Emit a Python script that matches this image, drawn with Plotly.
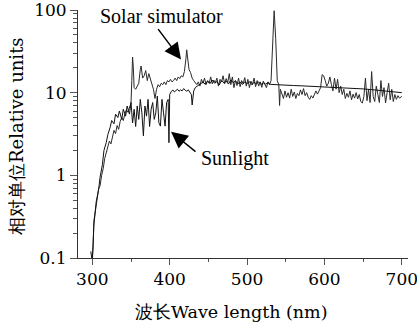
import plotly.graph_objects as go

# Sunlight spectrum (wavelength nm, relative units)
sun_wl = [298, 299, 300, 302, 303, 305, 308, 310, 313, 315, 318, 320, 323, 325, 328, 330, 333, 335, 338,
          340, 343, 345, 348, 350, 352, 354, 356, 358, 360, 362, 364, 366, 368, 370, 372, 374, 376, 378,
          380, 382, 384, 386, 388, 390, 392, 394, 396, 398, 399, 400, 402, 404, 406, 408, 410, 412, 414,
          416, 418, 420, 422, 424, 426, 428, 429, 431, 433, 435, 438, 440, 443, 446, 449, 452, 455, 458,
          461, 464, 467, 470, 473, 476, 479, 482, 485, 488, 491, 494, 497, 500, 503, 506, 509, 512, 515,
          518, 521, 524, 527, 530, 535, 540, 550, 560, 570, 580, 590, 600, 610, 620, 630, 640, 650, 660,
          670, 680, 690, 700]
sun_val = [0.12, 0.1, 0.09, 0.25, 0.34, 0.48, 0.66, 0.95, 1.35, 2.0, 2.5, 3.1, 3.8, 4.6, 4.2, 5.5, 5.0, 6.0, 4.75,
           6.3, 5.2, 6.9, 5.5, 7.6, 4.3, 6.3, 3.9, 6.9, 4.75, 8.3, 5.7, 3.0, 6.9, 5.2, 8.3, 3.9, 6.3, 7.6,
           4.75, 5.7, 9.1, 4.33, 3.94, 8.3, 5.7, 3.94, 7.6, 8.3, 2.48, 9.5, 10.3, 10.8, 10.2, 10.6, 11.0, 10.4, 10.8,
           10.5, 11.2, 10.7, 10.4, 10.8, 10.2, 9.5, 7.1, 10.5, 11.5, 12.0, 12.5, 12.8, 13.5, 12.6, 13.8, 12.9, 14.2, 13.0,
           13.6, 12.4, 14.0, 13.1, 13.8, 12.7, 14.3, 13.2, 13.9, 12.8, 13.5, 12.6, 13.4, 12.9, 13.6, 12.5, 13.3, 12.8, 13.5,
           12.6, 13.1, 12.7, 13.2, 12.6, 12.5, 12.4, 12.3, 12.2, 12.1, 12.0, 11.9, 11.8, 11.7, 11.55, 11.4, 11.25, 11.1, 10.9,
           10.7, 10.5, 10.25, 10.0]

# Solar simulator spectrum
sim_wl = [300, 301, 302, 304, 306, 308, 310, 312, 314, 316, 318, 320, 322, 324, 326, 328, 330, 332, 334, 336,
          338, 340, 342, 344, 346, 348, 350, 351, 352, 353, 354, 356, 358, 360, 362, 363, 365, 367, 369, 371,
          373, 375, 377, 379, 381, 383, 385, 387, 389, 391, 393, 395, 397, 399, 401, 403, 405, 407, 409, 411,
          413, 415, 417, 419, 421, 422, 423, 425, 427, 429, 431, 433, 435, 437, 439, 441, 443, 445, 447, 449,
          451, 453, 455, 457, 459, 461, 463, 465, 467, 469, 471, 473, 475, 477, 479, 481, 483, 485, 487, 489,
          491, 493, 495, 497, 499, 501, 503, 505, 507, 509, 511, 513, 515, 517, 519, 521, 523, 525, 527, 529,
          531, 533, 535, 537, 539, 541, 542, 543, 545, 547, 549, 551, 553, 555, 557, 559, 561, 563, 565, 567,
          569, 571, 573, 575, 577, 579, 581, 583, 585, 587, 589, 591, 593, 595, 597, 599, 601, 603, 605, 607,
          609, 611, 613, 615, 617, 619, 621, 623, 625, 627, 629, 631, 633, 635, 637, 639, 641, 643, 645, 647,
          649, 651, 653, 655, 657, 659, 661, 663, 665, 667, 669, 671, 673, 675, 677, 679, 681, 683, 685, 687,
          689, 691, 693, 695, 697, 700]
sim_val = [0.1, 0.14, 0.28, 0.36, 0.5, 0.68, 0.75, 1.0, 1.2, 1.6, 1.9, 2.2, 2.6, 2.4, 3.0, 3.5, 3.2, 4.0, 3.6, 4.5,
           5.0, 4.6, 5.5, 6.2, 5.8, 6.8, 7.5, 14.0, 27.0, 20.0, 11.5, 11.0, 12.0, 13.0, 19.0, 21.0, 15.0, 16.0, 18.5, 14.0,
           17.0, 15.0, 12.5, 11.0, 8.5, 11.0, 12.5, 11.8, 13.0, 12.5, 13.5, 12.5, 14.0, 13.5, 14.5, 13.5, 14.0, 15.0, 14.0, 15.5,
           14.8, 16.0, 15.5, 18.0, 26.0, 33.0, 27.0, 19.0, 17.5, 15.0, 14.0, 13.0, 12.5, 13.5, 12.0, 14.5, 13.0, 15.0, 12.5, 14.0,
           13.0, 15.5, 12.8, 14.2, 13.2, 15.0, 12.0, 14.5, 13.5, 16.0, 12.8, 14.8, 13.2, 17.0, 12.5, 15.5, 11.5, 14.0, 12.2, 15.0,
           11.8, 14.0, 12.8, 15.2, 12.0, 14.5, 11.5, 13.8, 12.5, 15.0, 11.8, 14.0, 12.0, 13.5, 11.6, 13.8, 12.4, 11.5, 13.5, 12.5,
           14.0, 40.0, 98.0, 45.0, 14.0, 12.5, 7.0, 11.0, 9.5, 8.5, 10.5, 8.8, 10.0, 8.6, 11.0, 9.0, 10.2, 8.5, 9.8, 9.2,
           10.8, 9.5, 11.2, 9.2, 10.0, 8.8, 8.3, 9.2, 8.6, 9.8, 10.5, 9.6, 10.4, 11.5, 16.5, 16.0, 14.0, 12.0, 13.0, 15.5,
           12.5, 10.5, 15.0, 11.0, 14.5, 10.0, 12.0, 9.5, 11.0, 8.5, 9.8, 8.8, 10.5, 8.2, 9.6, 8.6, 10.0, 8.4, 9.5, 7.8,
           7.5, 9.0, 15.0, 8.0, 11.0, 7.6, 18.0, 9.0, 7.8, 12.0, 9.5, 7.6, 14.0, 9.0, 11.5, 7.5, 10.0, 13.0, 8.2, 11.0,
           7.8, 9.5, 8.3, 9.2, 8.6, 9.0]

x_ticks = [300, 400, 500, 600, 700]
x_minor = [350, 450, 550, 650]
y_ticks = [0.1, 1, 10, 100]
y_tick_text = ["0.1", "1", "10", "100"]
y_minor = [0.2, 0.3, 0.4, 0.5, 0.6, 0.7, 0.8, 0.9, 2, 3, 4, 5, 6, 7, 8, 9, 20, 30, 40, 50, 60, 70, 80, 90]

serif2 = "DejaVu Serif"

fig = go.Figure()
fig.add_trace(go.Scatter(x=sim_wl, y=sim_val, mode="lines", line=dict(color="#2a2a2a", width=1),
                         name="Solar simulator", showlegend=False))
fig.add_trace(go.Scatter(x=sun_wl, y=sun_val, mode="lines", line=dict(color="#111111", width=1),
                         name="Sunlight", showlegend=False))

# arrows (log axis -> annotation y given in log10 units)
fig.add_annotation(x=414.6, y=1.4, xref="x", yref="y", text="", showarrow=True,
                   ax=-24, ay=-32, arrowhead=2, arrowsize=2.2, arrowwidth=1.5, arrowcolor="black")
fig.add_annotation(x=401.7, y=0.527, xref="x", yref="y", text="", showarrow=True,
                   ax=26, ay=21, arrowhead=2, arrowsize=2.2, arrowwidth=1.5, arrowcolor="black")
fig.add_annotation(x=0.263, y=0.976, xref="paper", yref="paper", text="Solar simulator",
                   xanchor="center", yanchor="middle",
                   showarrow=False, font=dict(family="Times New Roman", size=20, color="black"))
fig.add_annotation(x=0.484, y=0.403, xref="paper", yref="paper", text="Sunlight",
                   xanchor="center", yanchor="middle",
                   showarrow=False, font=dict(family="serif", size=20, color="black"))
# axis titles
fig.add_annotation(x=0.472, y=-0.218, xref="paper", yref="paper", text="波长Wave length (nm)",
                   xanchor="center", yanchor="middle",
                   showarrow=False, font=dict(family=serif2, size=17.5, color="black"))
fig.add_annotation(x=-0.167, y=0.492, xref="paper", yref="paper", text="相对单位Relative units",
                   xanchor="center", yanchor="middle", textangle=-90,
                   showarrow=False, font=dict(family=serif2, size=18, color="black"))

fig.update_layout(
    width=417, height=330,
    margin=dict(l=73, r=9, t=10, b=72),
    paper_bgcolor="white", plot_bgcolor="white",
    font=dict(family=serif2, size=17, color="black"),
    xaxis=dict(range=[275, 708], tickvals=x_ticks, ticks="outside", ticklen=6, tickwidth=1,
               tickcolor="#555", showline=True, linecolor="#333", linewidth=1, showgrid=False,
               zeroline=False, automargin=False, ticklabeloverflow="allow",
               minor=dict(tickvals=x_minor, ticks="outside", ticklen=3, tickcolor="#555"),
               tickfont=dict(family=serif2, size=17)),
    yaxis=dict(type="log", range=[-1, 2], tickvals=y_ticks, ticktext=y_tick_text, ticks="outside",
               ticklen=7, tickwidth=1, tickcolor="#555", showline=True, linecolor="#333", linewidth=1,
               showgrid=False, zeroline=False, anchor="free", position=4/335, automargin=False,
               ticklabeloverflow="allow",
               minor=dict(tickvals=y_minor, ticks="outside", ticklen=4, tickcolor="#555"),
               tickfont=dict(family=serif2, size=17)),
)

fig.write_html("out.html")
